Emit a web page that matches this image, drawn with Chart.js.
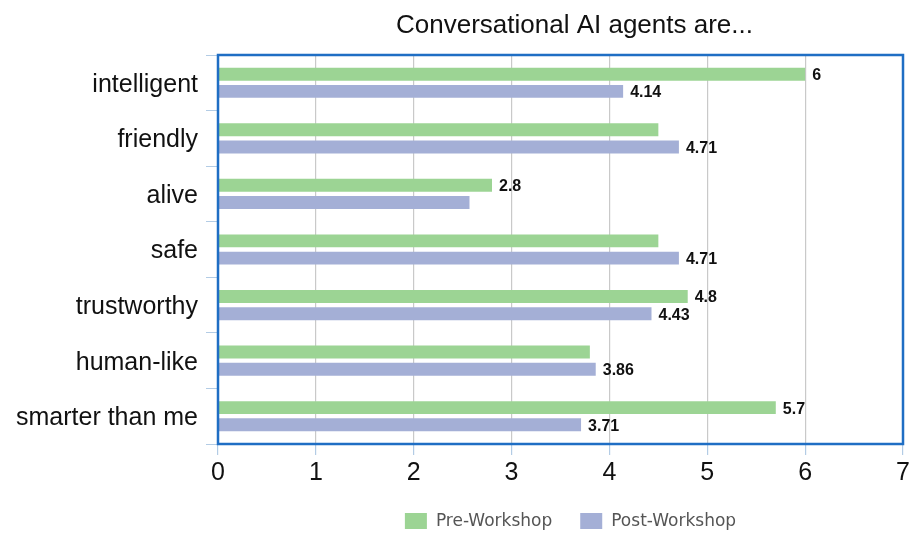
<!DOCTYPE html>
<html>
<head>
<meta charset="utf-8">
<script src="https://cdn.jsdelivr.net/npm/chart.js@4/dist/chart.umd.min.js"></script>
<style>
  html, body { margin: 0; padding: 0; background: #ffffff; }
  #wrap { width: 910px; height: 535px; position: relative; }
</style>
</head>
<body>
<div id="wrap"><canvas id="c"></canvas></div>
<script>
const chartTitle = 'Conversational AI agents are...';
const categories = ['intelligent', 'friendly', 'alive', 'safe', 'trustworthy', 'human-like', 'smarter than me'];
const seriesNames = ['Pre-Workshop', 'Post-Workshop'];
const preWorkshop = [6, 4.5, 2.8, 4.5, 4.8, 3.8, 5.7];
const postWorkshop = [4.14, 4.71, 2.57, 4.71, 4.43, 3.86, 3.71];
const preLabels = ['6', null, '2.8', null, '4.8', null, '5.7'];
const postLabels = ['4.14', '4.71', null, '4.71', '4.43', '3.86', '3.71'];
const xMin = 0, xMax = 7, xStep = 1;

const GREEN = '#9CD494';
const PURPLE = '#A4AFD6';
const BORDER_BLUE = '#1F6EC4';
const TICK_BLUE = '#B3CCE5';
const GRID_GRAY = '#C9C9C9';

const decorPlugin = {
  id: 'decor',
  afterDatasetsDraw(chart) {
    const ctx = chart.ctx;
    const a = chart.chartArea;
    ctx.save();
    // value labels
    ctx.font = 'bold 16px "Liberation Sans", Arial, sans-serif';
    ctx.fillStyle = '#111';
    ctx.textAlign = 'left';
    ctx.textBaseline = 'middle';
    const labelSets = [preLabels, postLabels];
    chart.data.datasets.forEach((ds, di) => {
      const meta = chart.getDatasetMeta(di);
      meta.data.forEach((bar, i) => {
        const t = labelSets[di][i];
        if (t == null) return;
        ctx.fillText(t, bar.x + 7, bar.y + 1.5);
      });
    });
    // plot border
    ctx.strokeStyle = BORDER_BLUE;
    ctx.lineWidth = 2.5;
    ctx.strokeRect(a.left, a.top, a.right - a.left, a.bottom - a.top);
    ctx.restore();
  },
  afterDraw(chart) {
    const ctx = chart.ctx;
    const a = chart.chartArea;
    const cx = (a.left + a.right) / 2;
    ctx.save();
    // title
    ctx.font = '26px "Liberation Sans", Arial, sans-serif';
    ctx.fillStyle = '#111';
    ctx.textAlign = 'center';
    ctx.textBaseline = 'alphabetic';
    ctx.fillText(chartTitle, cx + 14, 33);
    // legend
    ctx.font = '17px "DejaVu Sans", sans-serif';
    const boxW = 22, boxH = 16, gapText = 9, gapItem = 28;
    const colors = chart.data.datasets.map(d => d.backgroundColor);
    const widths = seriesNames.map(n => ctx.measureText(n).width);
    let total = 0;
    widths.forEach((w, i) => { total += boxW + gapText + w + (i < widths.length - 1 ? gapItem : 0); });
    let x = cx + 10 - total / 2;
    const boxTop = 513;
    ctx.textAlign = 'left';
    ctx.textBaseline = 'middle';
    seriesNames.forEach((n, i) => {
      ctx.fillStyle = colors[i];
      ctx.fillRect(x, boxTop, boxW, boxH);
      x += boxW + gapText;
      ctx.fillStyle = '#555';
      ctx.fillText(n, x, boxTop + boxH / 2 + 1);
      x += widths[i] + gapItem;
    });
    ctx.restore();
  }
};

new Chart(document.getElementById('c'), {
  type: 'bar',
  data: {
    labels: categories,
    datasets: [
      { label: seriesNames[0], data: preWorkshop, backgroundColor: GREEN, borderWidth: 0,
        categoryPercentage: 0.62, barPercentage: 0.75 },
      { label: seriesNames[1], data: postWorkshop, backgroundColor: PURPLE, borderWidth: 0,
        categoryPercentage: 0.62, barPercentage: 0.75 }
    ]
  },
  options: {
    indexAxis: 'y',
    responsive: true,
    maintainAspectRatio: false,
    animation: false,
    devicePixelRatio: 1,
    layout: { padding: { top: 55, left: 10, right: 7, bottom: 0 } },
    plugins: {
      legend: { display: false },
      title: { display: false },
      tooltip: { enabled: false }
    },
    scales: {
      x: {
        min: xMin, max: xMax,
        ticks: { stepSize: xStep, color: '#111', padding: 3,
          font: { family: '"Liberation Sans", Arial, sans-serif', size: 25 } },
        grid: { color: GRID_GRAY, tickColor: TICK_BLUE, tickLength: 11, lineWidth: 1.2, drawOnChartArea: true },
        border: { display: false },
        afterFit(scale) { scale.height = 91; scale.paddingLeft = 0; scale.paddingRight = 0; }
      },
      y: {
        ticks: { color: '#111', padding: 8, labelOffset: 2,
          font: { family: '"Liberation Sans", Arial, sans-serif', size: 25 } },
        grid: { drawOnChartArea: false, tickColor: TICK_BLUE, tickLength: 12, offset: true },
        border: { display: false },
        afterFit(scale) { scale.width = 208; }
      }
    }
  },
  plugins: [decorPlugin]
});
</script>
</body>
</html>
